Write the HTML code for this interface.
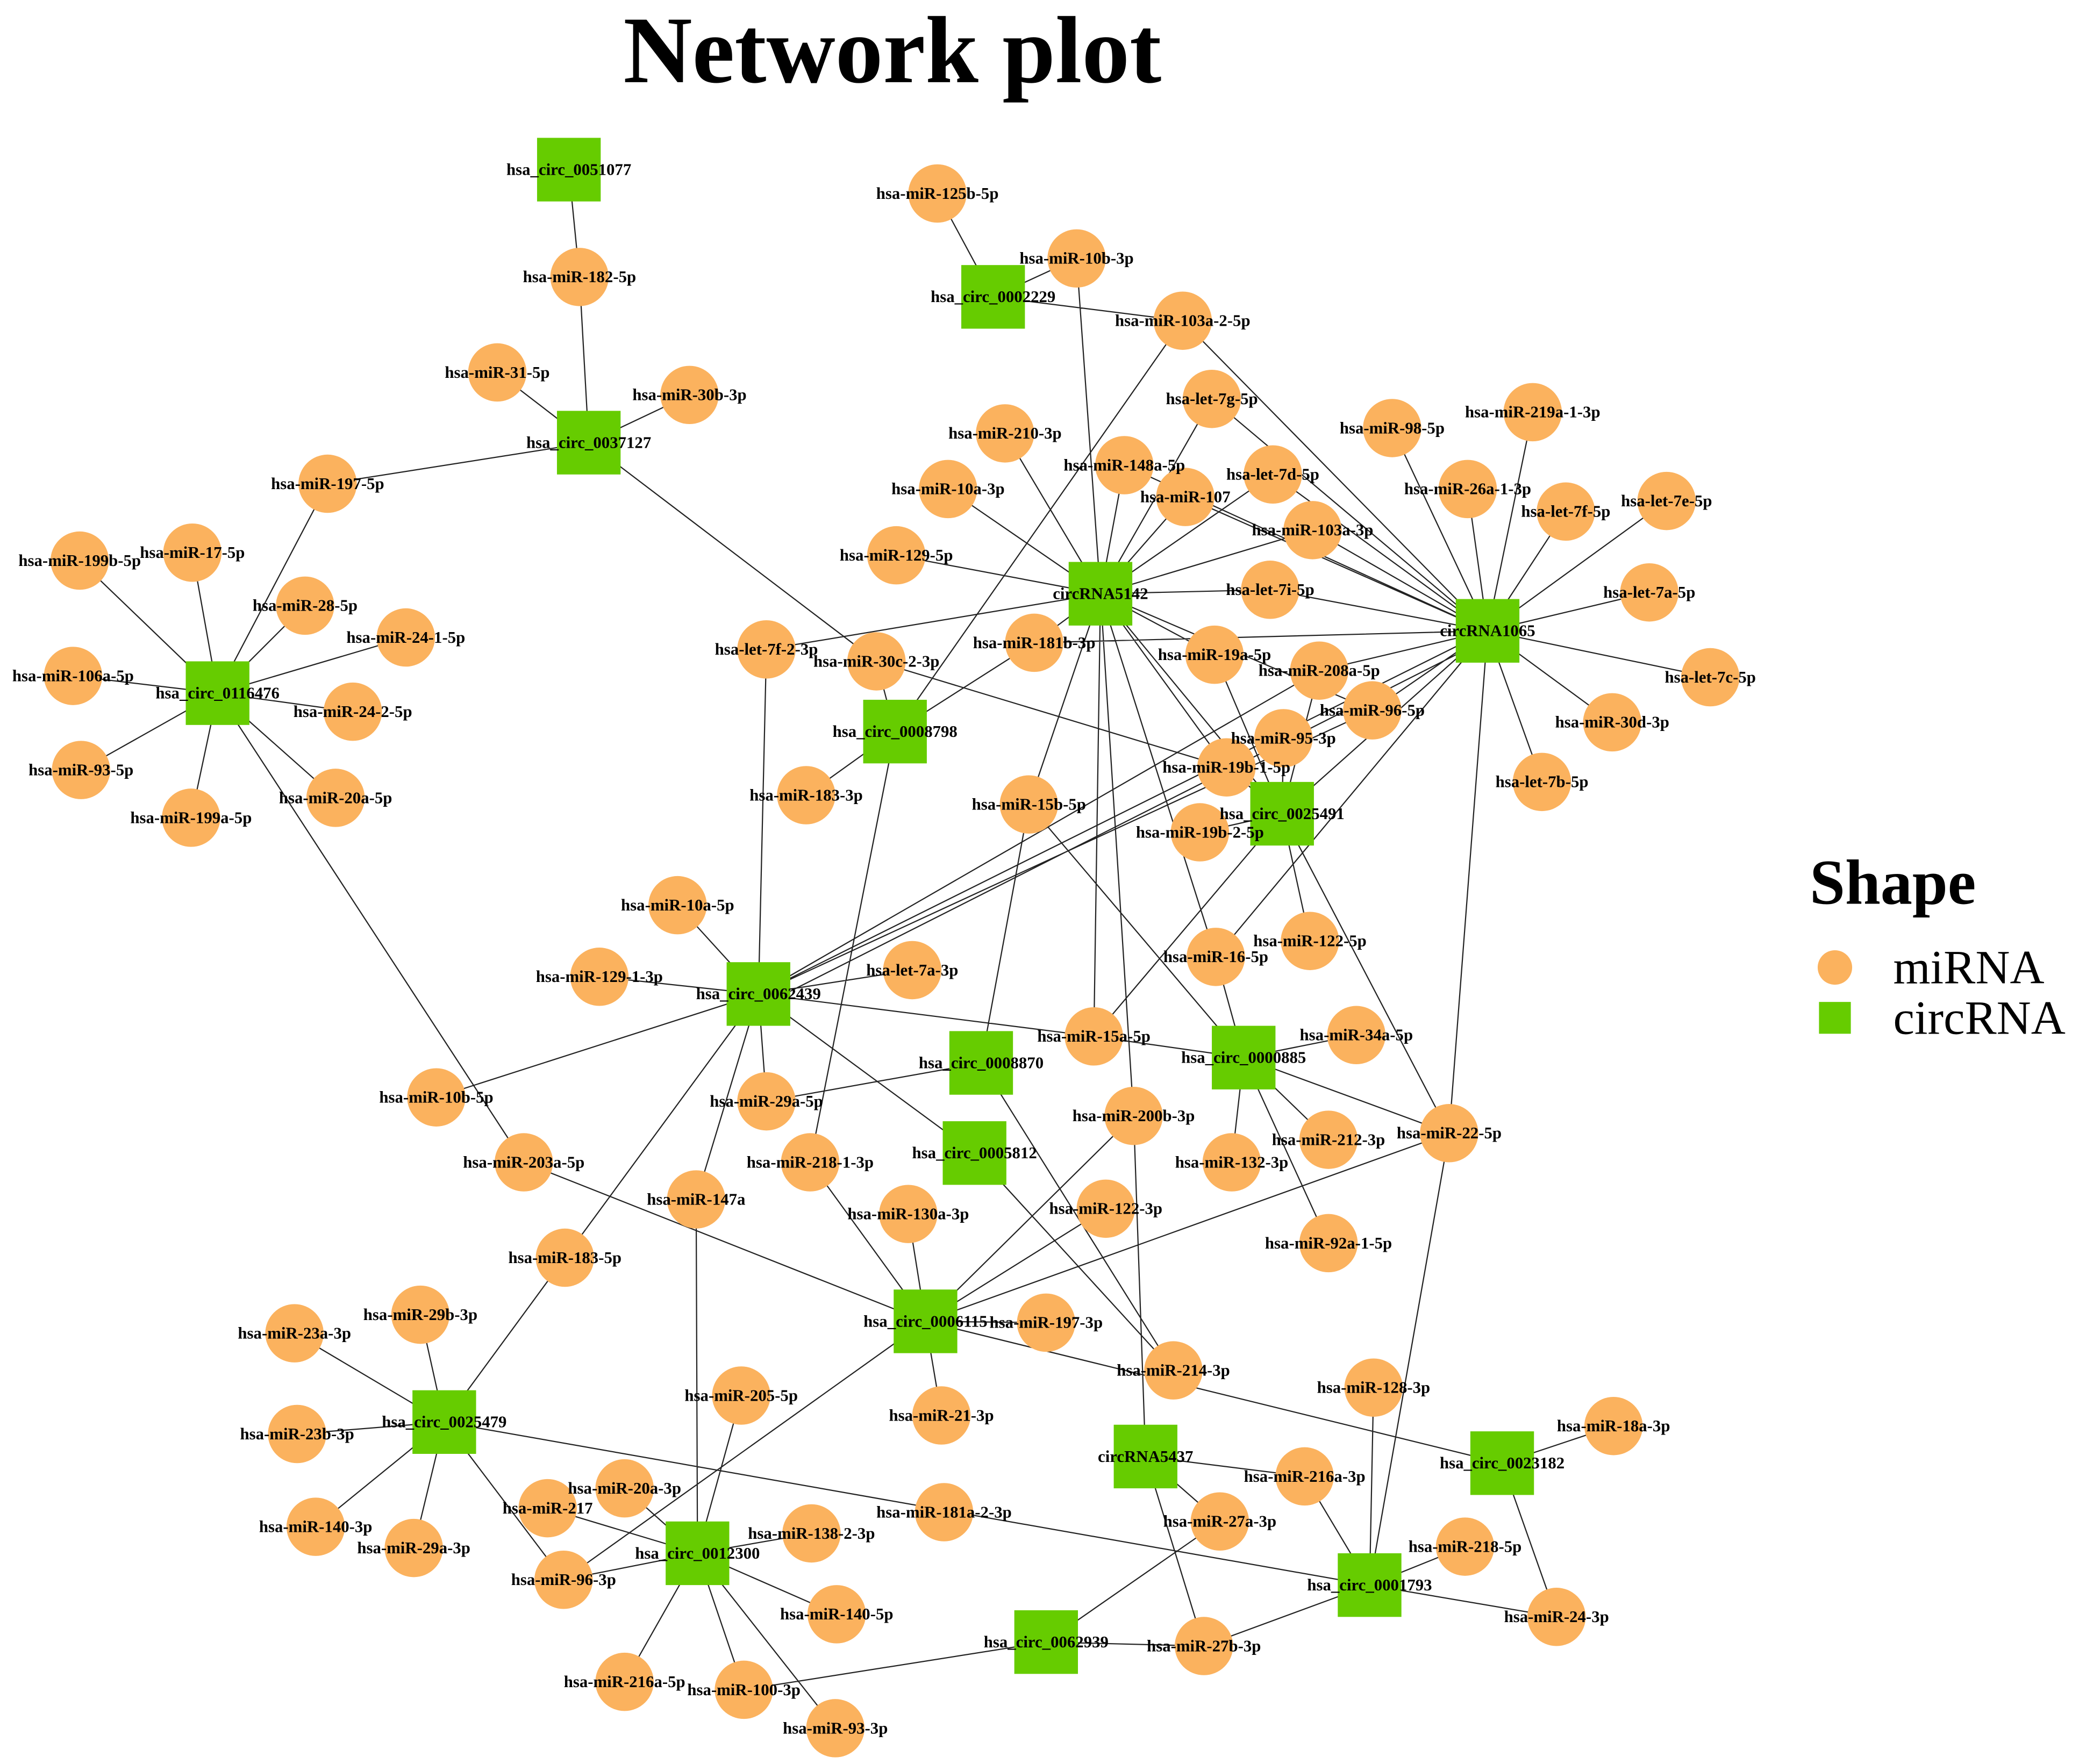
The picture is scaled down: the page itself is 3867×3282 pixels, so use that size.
<!DOCTYPE html>
<html><head><meta charset="utf-8"><style>html,body{margin:0;padding:0;background:#fff}svg{display:block}</style></head>
<body>
<svg width="3867" height="3282" viewBox="0 0 1568 1331" xmlns="http://www.w3.org/2000/svg">
<rect width="1568" height="1331" fill="#fff"/>
<text x="673" y="62" text-anchor="middle" font-family="Liberation Serif, serif" font-weight="bold" font-size="72">Network plot</text>
<g stroke="#222" stroke-width="0.9" fill="none">
<path d="M429,128L437,209L444,334M444,334L375,281M444,334L520,298M444,334L247,365M444,334L661,499M247,365L164,523
M164,523L145,417M164,523L60,423M164,523L230,457M164,523L306,481M164,523L55,510M164,523L266,537M164,523L61,581M164,523L253,602M164,523L144,617M164,523L395,877
M749,224L707,146M749,224L812,195M749,224L892,242M892,242L675,552M892,242L1122,476M812,195L830,448
M830,448L758,327M830,448L848,351M830,448L715,369M830,448L676,419M830,448L894,375M830,448L960,358M830,448L914,301M830,448L990,400M830,448L958,445M830,448L780,485M830,448L916,494M830,448L578,490M830,448L776,607M830,448L825,782M830,448L855,842M830,448L925,579M830,448L917,722M830,448L967,614M830,448L1035,536
M958,445L1122,476
M1122,476L1050,323M1122,476L1156,311M1122,476L1107,369M1122,476L1181,386M1122,476L1257,378M1122,476L1244,447M1122,476L1290,511M1122,476L1216,545M1122,476L1163,590M1122,476L990,400M1122,476L960,358M1122,476L914,301M1122,476L894,375M1122,476L848,351M1122,476L995,506M1122,476L1035,536M1122,476L780,485M1122,476L572,750M1122,482L580,756M1122,476L1093,855M1122,476L967,614M1122,476L917,722
M967,614L916,494M967,614L995,506M967,614L968,557M967,614L925,579M967,614L905,628M967,614L988,710M967,614L1093,855M967,614L825,782
M661,499L925,579M661,499L675,552M675,552L780,485M675,552L608,600M675,552L611,877
M572,750L578,490M572,750L511,683M572,750L452,737M572,750L688,732M572,750L578,831M572,750L329,828M572,750L525,905M572,750L426,949M572,750L825,782M572,750L735,870M572,750L995,506M572,750L1035,536
M825,782L938,798M740,802L776,607M740,802L578,831M740,802L885,1034
M938,798L917,722M938,798L776,607M938,798L1023,781M938,798L1002,860M938,798L929,877M938,798L1002,938M938,798L1093,855
M735,870L885,1034
M698,997L611,877M698,997L685,916M698,997L395,877M698,997L855,842M698,997L834,912M698,997L1093,855M698,997L789,998M698,997L710,1068M698,997L425,1192M698,997L1133,1104
M335,1073L426,949M335,1073L222,1006M335,1073L317,992M335,1073L224,1082M335,1073L238,1152M335,1073L312,1168M335,1073L425,1192M335,1073L1033,1196
M526,1172L525,905M526,1172L559,1053M526,1172L471,1123M526,1172L413,1138M526,1172L612,1157M526,1172L631,1218M526,1172L471,1269M526,1172L561,1275M526,1172L630,1304M526,1172L425,1192
M561,1275L789,1239M864,1099L855,842M864,1099L920,1148M864,1099L908,1242M864,1099L984,1114M789,1239L920,1148M789,1239L908,1242
M1033,1196L908,1242M1033,1196L984,1114M1033,1196L1036,1047M1033,1196L1105,1167M1033,1196L1174,1220M1033,1196L1093,855M1133,1104L1217,1076M1133,1104L1174,1220"/>
</g>
<g fill="#fbb25e">
<circle cx="437" cy="209" r="22"/><circle cx="375" cy="281" r="22"/><circle cx="520" cy="298" r="22"/><circle cx="247" cy="365" r="22"/>
<circle cx="707" cy="146" r="22"/><circle cx="812" cy="195" r="22"/><circle cx="892" cy="242" r="22"/><circle cx="914" cy="301" r="22"/>
<circle cx="758" cy="327" r="22"/><circle cx="848" cy="351" r="22"/><circle cx="960" cy="358" r="22"/><circle cx="894" cy="375" r="22"/>
<circle cx="715" cy="369" r="22"/><circle cx="990" cy="400" r="22"/><circle cx="1050" cy="323" r="22"/><circle cx="1156" cy="311" r="22"/>
<circle cx="1107" cy="369" r="22"/><circle cx="1181" cy="386" r="22"/><circle cx="1257" cy="378" r="22"/><circle cx="1244" cy="447" r="22"/>
<circle cx="1290" cy="511" r="22"/><circle cx="1216" cy="545" r="22"/><circle cx="1163" cy="590" r="22"/><circle cx="676" cy="419" r="22"/>
<circle cx="958" cy="445" r="22"/><circle cx="780" cy="485" r="22"/><circle cx="916" cy="494" r="22"/><circle cx="995" cy="506" r="22"/>
<circle cx="1035" cy="536" r="22"/><circle cx="968" cy="557" r="22"/><circle cx="925" cy="579" r="22"/><circle cx="905" cy="628" r="22"/>
<circle cx="776" cy="607" r="22"/><circle cx="578" cy="490" r="22"/><circle cx="661" cy="499" r="22"/><circle cx="608" cy="600" r="22"/>
<circle cx="145" cy="417" r="22"/><circle cx="60" cy="423" r="22"/><circle cx="230" cy="457" r="22"/><circle cx="306" cy="481" r="22"/>
<circle cx="55" cy="510" r="22"/><circle cx="266" cy="537" r="22"/><circle cx="61" cy="581" r="22"/><circle cx="253" cy="602" r="22"/>
<circle cx="144" cy="617" r="22"/><circle cx="511" cy="683" r="22"/><circle cx="452" cy="737" r="22"/><circle cx="688" cy="732" r="22"/>
<circle cx="988" cy="710" r="22"/><circle cx="917" cy="722" r="22"/><circle cx="825" cy="782" r="22"/><circle cx="1023" cy="781" r="22"/>
<circle cx="329" cy="828" r="22"/><circle cx="578" cy="831" r="22"/><circle cx="855" cy="842" r="22"/><circle cx="1093" cy="855" r="22"/>
<circle cx="1002" cy="860" r="22"/><circle cx="929" cy="877" r="22"/><circle cx="395" cy="877" r="22"/><circle cx="611" cy="877" r="22"/>
<circle cx="525" cy="905" r="22"/><circle cx="685" cy="916" r="22"/><circle cx="834" cy="912" r="22"/><circle cx="1002" cy="938" r="22"/>
<circle cx="426" cy="949" r="22"/><circle cx="222" cy="1006" r="22"/><circle cx="317" cy="992" r="22"/><circle cx="789" cy="998" r="22"/>
<circle cx="885" cy="1034" r="22"/><circle cx="1036" cy="1047" r="22"/><circle cx="1217" cy="1076" r="22"/><circle cx="559" cy="1053" r="22"/>
<circle cx="710" cy="1068" r="22"/><circle cx="224" cy="1082" r="22"/><circle cx="984" cy="1114" r="22"/><circle cx="471" cy="1123" r="22"/>
<circle cx="413" cy="1138" r="22"/><circle cx="612" cy="1157" r="22"/><circle cx="712" cy="1141" r="22"/><circle cx="920" cy="1148" r="22"/>
<circle cx="238" cy="1152" r="22"/><circle cx="312" cy="1168" r="22"/><circle cx="1105" cy="1167" r="22"/><circle cx="425" cy="1192" r="22"/>
<circle cx="631" cy="1218" r="22"/><circle cx="1174" cy="1220" r="22"/><circle cx="908" cy="1242" r="22"/><circle cx="471" cy="1269" r="22"/>
<circle cx="561" cy="1275" r="22"/><circle cx="630" cy="1304" r="22"/>
<circle cx="1384" cy="730" r="13"/>
</g>
<g fill="#66cc00">
<rect x="405" y="104" width="48" height="48"/><rect x="420" y="310" width="48" height="48"/><rect x="725" y="200" width="48" height="48"/>
<rect x="140" y="499" width="48" height="48"/><rect x="651" y="528" width="48" height="48"/><rect x="806" y="424" width="48" height="48"/>
<rect x="1098" y="452" width="48" height="48"/><rect x="943" y="590" width="48" height="48"/><rect x="548" y="726" width="48" height="48"/>
<rect x="716" y="778" width="48" height="48"/><rect x="914" y="774" width="48" height="48"/><rect x="711" y="846" width="48" height="48"/>
<rect x="674" y="973" width="48" height="48"/><rect x="311" y="1049" width="48" height="48"/><rect x="840" y="1075" width="48" height="48"/>
<rect x="1109" y="1080" width="48" height="48"/><rect x="502" y="1148" width="48" height="48"/><rect x="1009" y="1172" width="48" height="48"/>
<rect x="765" y="1215" width="48" height="48"/>
<rect x="1372" y="756" width="24" height="24"/>
</g>
<g font-family="Liberation Serif, serif" font-weight="bold" font-size="12.5" text-anchor="middle" fill="#000">
<text x="429" y="132">hsa_circ_0051077</text><text x="444" y="338">hsa_circ_0037127</text><text x="749" y="228">hsa_circ_0002229</text>
<text x="164" y="527">hsa_circ_0116476</text><text x="675" y="556">hsa_circ_0008798</text><text x="830" y="452">circRNA5142</text>
<text x="1122" y="480">circRNA1065</text><text x="967" y="618">hsa_circ_0025491</text><text x="572" y="754">hsa_circ_0062439</text>
<text x="740" y="806">hsa_circ_0008870</text><text x="938" y="802">hsa_circ_0000885</text><text x="735" y="874">hsa_circ_0005812</text>
<text x="698" y="1001">hsa_circ_0006115</text><text x="335" y="1077">hsa_circ_0025479</text><text x="864" y="1103">circRNA5437</text>
<text x="1133" y="1108">hsa_circ_0023182</text><text x="526" y="1176">hsa_circ_0012300</text><text x="1033" y="1200">hsa_circ_0001793</text>
<text x="789" y="1243">hsa_circ_0062939</text>
<text x="437" y="213">hsa-miR-182-5p</text><text x="375" y="285">hsa-miR-31-5p</text><text x="520" y="302">hsa-miR-30b-3p</text><text x="247" y="369">hsa-miR-197-5p</text>
<text x="707" y="150">hsa-miR-125b-5p</text><text x="812" y="199">hsa-miR-10b-3p</text><text x="892" y="246">hsa-miR-103a-2-5p</text><text x="914" y="305">hsa-let-7g-5p</text>
<text x="758" y="331">hsa-miR-210-3p</text><text x="848" y="355">hsa-miR-148a-5p</text><text x="960" y="362">hsa-let-7d-5p</text><text x="894" y="379">hsa-miR-107</text>
<text x="715" y="373">hsa-miR-10a-3p</text><text x="990" y="404">hsa-miR-103a-3p</text><text x="1050" y="327">hsa-miR-98-5p</text><text x="1156" y="315">hsa-miR-219a-1-3p</text>
<text x="1107" y="373">hsa-miR-26a-1-3p</text><text x="1181" y="390">hsa-let-7f-5p</text><text x="1257" y="382">hsa-let-7e-5p</text><text x="1244" y="451">hsa-let-7a-5p</text>
<text x="1290" y="515">hsa-let-7c-5p</text><text x="1216" y="549">hsa-miR-30d-3p</text><text x="1163" y="594">hsa-let-7b-5p</text><text x="676" y="423">hsa-miR-129-5p</text>
<text x="958" y="449">hsa-let-7i-5p</text><text x="780" y="489">hsa-miR-181b-3p</text><text x="916" y="498">hsa-miR-19a-5p</text><text x="995" y="510">hsa-miR-208a-5p</text>
<text x="1035" y="540">hsa-miR-96-5p</text><text x="968" y="561">hsa-miR-95-3p</text><text x="925" y="583">hsa-miR-19b-1-5p</text><text x="905" y="632">hsa-miR-19b-2-5p</text>
<text x="776" y="611">hsa-miR-15b-5p</text><text x="578" y="494">hsa-let-7f-2-3p</text><text x="661" y="503">hsa-miR-30c-2-3p</text><text x="608" y="604">hsa-miR-183-3p</text>
<text x="145" y="421">hsa-miR-17-5p</text><text x="60" y="427">hsa-miR-199b-5p</text><text x="230" y="461">hsa-miR-28-5p</text><text x="306" y="485">hsa-miR-24-1-5p</text>
<text x="55" y="514">hsa-miR-106a-5p</text><text x="266" y="541">hsa-miR-24-2-5p</text><text x="61" y="585">hsa-miR-93-5p</text><text x="253" y="606">hsa-miR-20a-5p</text>
<text x="144" y="621">hsa-miR-199a-5p</text><text x="511" y="687">hsa-miR-10a-5p</text><text x="452" y="741">hsa-miR-129-1-3p</text><text x="688" y="736">hsa-let-7a-3p</text>
<text x="988" y="714">hsa-miR-122-5p</text><text x="917" y="726">hsa-miR-16-5p</text><text x="825" y="786">hsa-miR-15a-5p</text><text x="1023" y="785">hsa-miR-34a-5p</text>
<text x="329" y="832">hsa-miR-10b-5p</text><text x="578" y="835">hsa-miR-29a-5p</text><text x="855" y="846">hsa-miR-200b-3p</text><text x="1093" y="859">hsa-miR-22-5p</text>
<text x="1002" y="864">hsa-miR-212-3p</text><text x="929" y="881">hsa-miR-132-3p</text><text x="395" y="881">hsa-miR-203a-5p</text><text x="611" y="881">hsa-miR-218-1-3p</text>
<text x="525" y="909">hsa-miR-147a</text><text x="685" y="920">hsa-miR-130a-3p</text><text x="834" y="916">hsa-miR-122-3p</text><text x="1002" y="942">hsa-miR-92a-1-5p</text>
<text x="426" y="953">hsa-miR-183-5p</text><text x="222" y="1010">hsa-miR-23a-3p</text><text x="317" y="996">hsa-miR-29b-3p</text><text x="789" y="1002">hsa-miR-197-3p</text>
<text x="885" y="1038">hsa-miR-214-3p</text><text x="1036" y="1051">hsa-miR-128-3p</text><text x="1217" y="1080">hsa-miR-18a-3p</text><text x="559" y="1057">hsa-miR-205-5p</text>
<text x="710" y="1072">hsa-miR-21-3p</text><text x="224" y="1086">hsa-miR-23b-3p</text><text x="984" y="1118">hsa-miR-216a-3p</text><text x="471" y="1127">hsa-miR-20a-3p</text>
<text x="413" y="1142">hsa-miR-217</text><text x="612" y="1161">hsa-miR-138-2-3p</text><text x="712" y="1145">hsa-miR-181a-2-3p</text><text x="920" y="1152">hsa-miR-27a-3p</text>
<text x="238" y="1156">hsa-miR-140-3p</text><text x="312" y="1172">hsa-miR-29a-3p</text><text x="1105" y="1171">hsa-miR-218-5p</text><text x="425" y="1196">hsa-miR-96-3p</text>
<text x="631" y="1222">hsa-miR-140-5p</text><text x="1174" y="1224">hsa-miR-24-3p</text><text x="908" y="1246">hsa-miR-27b-3p</text><text x="471" y="1273">hsa-miR-216a-5p</text>
<text x="561" y="1279">hsa-miR-100-3p</text><text x="630" y="1308">hsa-miR-93-3p</text>
</g>
<g font-family="Liberation Serif, serif">
<text x="1365" y="682" font-weight="bold" font-size="48">Shape</text>
<text x="1428" y="742" font-size="36">miRNA</text>
<text x="1428" y="780" font-size="36">circRNA</text>
</g>
</svg>
</body></html>
